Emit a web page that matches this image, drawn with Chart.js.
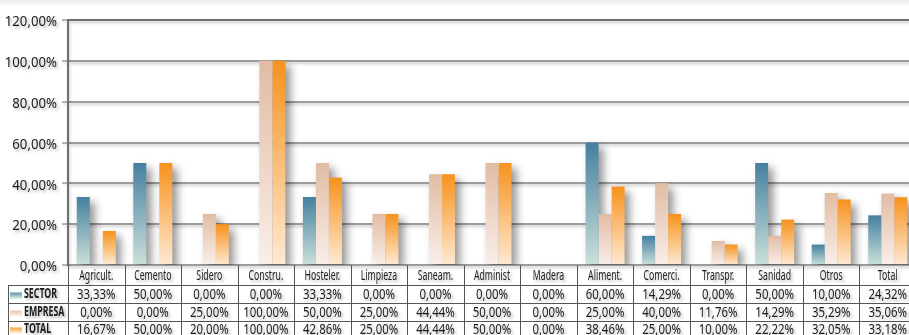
<!DOCTYPE html>
<html>
<head>
<meta charset="utf-8">
<script src="https://cdn.jsdelivr.net/npm/chart.js@4/dist/chart.umd.min.js"></script>
<style>
  html, body { margin: 0; padding: 0; overflow: hidden; }
  body { width: 909px; height: 335px; background: linear-gradient(#ebebeb, #ffffff 7px); }
  #wrap { width: 916px; height: 335px; }
</style>
</head>
<body>
<div id="wrap"><canvas id="chart" width="916" height="335"></canvas></div>
<script>
// data
const categories = ["Agricult.", "Cemento", "Sidero", "Constru.", "Hosteler.", "Limpieza", "Saneam.",
  "Administ", "Madera", "Aliment.", "Comerci.", "Transpr.", "Sanidad", "Otros", "Total"];
const sectorValues = [33.33, 50, 0, 0, 33.33, 0, 0, 0, 0, 60, 14.29, 0, 50, 10, 24.32];
const empresaValues = [0, 0, 25, 100, 50, 25, 44.44, 50, 0, 25, 40, 11.76, 14.29, 35.29, 35.06];
const totalValues = [16.67, 50, 20, 100, 42.86, 25, 44.44, 50, 0, 38.46, 25, 10, 22.22, 32.05, 33.18];
const seriesNames = ["SECTOR", "EMPRESA", "TOTAL"];
const yMax = 120;
const yStep = 20;

const FONT = "'Noto Sans', sans-serif";
const colors = [
  { top: "#45809f", bottom: "#cbe0da" },
  { top: "#e1bca4", bottom: "#f9efe9" },
  { top: "#f7921c", bottom: "#fee9d3" }
];

const fmt = v => v.toFixed(2).replace(".", ",") + "%";

// no condensed font installed, so squeeze the text horizontally
function squeezed(ctx, text, x, y, align, size, bold, sx) {
  ctx.save();
  ctx.translate(x, y);
  ctx.scale(sx, 1);
  ctx.font = (bold ? "bold " : "") + size + "px " + FONT;
  ctx.textAlign = align;
  ctx.textBaseline = "middle";
  ctx.fillText(text, 0, 0);
  ctx.restore();
}

function setShadow(ctx, on) {
  ctx.shadowColor = on ? "rgba(0,0,0,0.3)" : "rgba(0,0,0,0)";
  ctx.shadowBlur = on ? 3 : 0;
  ctx.shadowOffsetX = on ? 2 : 0;
  ctx.shadowOffsetY = on ? 2 : 0;
}

// vertical gradient from the top of each bar down to zero
function barGradient(c) {
  return (ctx) => {
    const chart = ctx.chart;
    if (!chart.chartArea || ctx.type !== "data" || !chart.scales.y) return c.top;
    const y = chart.scales.y.getPixelForValue(ctx.raw);
    const base = chart.scales.y.getPixelForValue(0);
    if (!(base - y > 0.5)) return c.top;
    const g = chart.ctx.createLinearGradient(0, y, 0, base);
    g.addColorStop(0, c.top);
    g.addColorStop(1, c.bottom);
    return g;
  };
}

// soft shadows for grid and bars
const shadows = {
  id: "shadows",
  beforeDraw(chart) {
    const ctx = chart.ctx;
    ctx.shadowColor = "rgba(0,0,0,0.22)";
    ctx.shadowBlur = 3;
    ctx.shadowOffsetX = 1;
    ctx.shadowOffsetY = 2;
  },
  beforeDatasetsDraw(chart) {
    const ctx = chart.ctx;
    setShadow(ctx, false);
    // bar shadows first, so every bar sits on top of them
    const a = chart.chartArea;
    ctx.save();
    ctx.beginPath();
    ctx.rect(a.left, a.top, a.right - a.left, a.bottom - a.top);
    ctx.clip();
    const far = 5000;
    chart.data.datasets.forEach((ds, i) => {
      chart.getDatasetMeta(i).data.forEach(el => {
        const h = el.base - el.y;
        if (h <= 0.5) return;
        ctx.save();
        ctx.shadowColor = "rgba(0,0,0,0.42)";
        ctx.shadowBlur = 8;
        ctx.shadowOffsetX = far + 5;
        ctx.shadowOffsetY = 5;
        ctx.fillStyle = "#000";
        ctx.fillRect(el.x - el.width / 2 - far, el.y, el.width, h);
        ctx.restore();
      });
    });
    ctx.restore();
  }
};

// y labels + data table under the plot, columns taken from the x scale
const dataTable = {
  id: "dataTable",
  afterDraw(chart) {
    const ctx = chart.ctx;
    const xs = chart.scales.x;
    const ys = chart.scales.y;
    const a = chart.chartArea;
    const n = categories.length;
    const colW = (xs.right - xs.left) / n;
    const rows = [sectorValues, empresaValues, totalValues];
    const lineYs = [285, 303, 321];
    const rowMid = [294.5, 312.5, 329.5];
    const headMid = 275.5;
    const boxLeft = 8;

    ctx.save();
    setShadow(ctx, false);
    ctx.strokeStyle = "#555";
    ctx.lineWidth = 1;
    ctx.beginPath();
    for (let i = 0; i <= n; i++) {
      const x = Math.round(xs.getPixelForValue(i) - colW / 2) + 0.5;
      ctx.moveTo(x, a.bottom);
      ctx.lineTo(x, 335);
    }
    lineYs.forEach(y => {
      ctx.moveTo(boxLeft, y + 0.5);
      ctx.lineTo(xs.right, y + 0.5);
    });
    ctx.moveTo(boxLeft + 0.5, lineYs[0]);
    ctx.lineTo(boxLeft + 0.5, 335);
    ctx.stroke();

    setShadow(ctx, true);
    ctx.fillStyle = "#1b1b1b";
    ys.ticks.forEach(t => {
      squeezed(ctx, fmt(t.value), ys.right - 11, ys.getPixelForValue(t.value) + 2, "right", 15, false, 0.88);
    });
    categories.forEach((c, i) => {
      squeezed(ctx, c, xs.getPixelForValue(i), headMid, "center", 14.5, false, 0.6);
    });
    rows.forEach((vals, r) => {
      vals.forEach((v, i) => {
        squeezed(ctx, fmt(v), xs.getPixelForValue(i), rowMid[r], "center", 15, false, 0.76);
      });
    });

    // row labels with colour keys
    seriesNames.forEach((name, r) => {
      squeezed(ctx, name, 24, rowMid[r], "left", 14, true, 0.63);
    });
    setShadow(ctx, false);
    seriesNames.forEach((name, r) => {
      const g = ctx.createLinearGradient(0, rowMid[r] - 3, 0, rowMid[r] + 3);
      g.addColorStop(0, colors[r].top);
      g.addColorStop(1, colors[r].bottom);
      ctx.fillStyle = g;
      ctx.fillRect(10, rowMid[r] - 2, 12, 6);
    });
    ctx.restore();
  }
};

new Chart(document.getElementById("chart"), {
  type: "bar",
  data: {
    labels: categories,
    datasets: [sectorValues, empresaValues, totalValues].map((vals, i) => ({
      label: seriesNames[i],
      data: vals,
      backgroundColor: barGradient(colors[i]),
      borderWidth: 0,
      categoryPercentage: 0.69,
      barPercentage: 1.0
    }))
  },
  options: {
    responsive: false,
    animation: false,
    layout: { padding: { top: 20, bottom: 70, right: 0, left: 0 } },
    plugins: {
      legend: { display: false },
      tooltip: { enabled: false }
    },
    scales: {
      x: {
        display: false,
        offset: true
      },
      y: {
        min: 0,
        max: yMax,
        afterFit: (scale) => { scale.width = 68; },
        ticks: {
          display: false,
          stepSize: yStep
        },
        grid: {
          color: (c) => (c.tick && c.tick.value === yMax) ? "#6f6f6f" : "#9c9c9c",
          lineWidth: 2,
          tickLength: 6,
          tickColor: "#6f6f6f",
          tickWidth: 1
        },
        border: { color: "#6f6f6f", width: 2 }
      }
    }
  },
  plugins: [shadows, dataTable]
});
</script>
</body>
</html>
